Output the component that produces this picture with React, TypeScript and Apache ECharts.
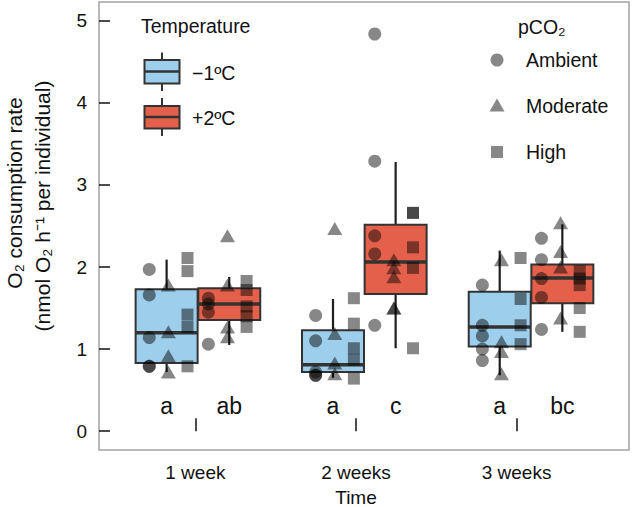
import React, { useEffect, useRef } from "react";
import * as echarts from "echarts";

// ---------- data ----------
const timeLabels = ["1 week", "2 weeks", "3 weeks"];
const timeValues = [1, 2, 3];
const yTicks = [0, 1, 2, 3, 4, 5];
const tempLabels = ["\u22121\u00baC", "+2\u00baC"];
const pco2Labels = ["Ambient", "Moderate", "High"];

// box statistics per time: [lower whisker, Q1, median, Q3, upper whisker]
const coldBoxes = [
  [0.72, 0.83, 1.2, 1.73, 2.09],
  [0.65, 0.72, 0.81, 1.23, 1.61],
  [0.68, 1.03, 1.27, 1.7, 2.2],
];
const warmBoxes = [
  [1.05, 1.355, 1.55, 1.74, 1.88],
  [1.01, 1.67, 2.06, 2.515, 3.28],
  [1.21, 1.56, 1.865, 2.03, 2.52],
];
const coldLetters = ["a", "a", "a"];
const warmLetters = ["ab", "c", "bc"];

// individual observations per time
const ambientCold = [
  [1.97, 1.66, 1.14, 0.79, 0.79],
  [1.41, 1.1, 0.72, 0.68, 0.68],
  [1.78, 1.29, 1.16, 1.0, 0.86],
];
const moderateCold = [
  [1.78, 1.21, 0.92, 0.72],
  [2.47, 1.19, 0.83, 0.7],
  [2.09, 1.09, 0.97, 0.7],
];
const highCold = [
  [2.11, 1.95, 1.42, 1.27, 0.79],
  [1.62, 1.31, 1.01, 0.87, 0.64],
  [2.11, 1.61, 1.29, 1.06],
];
const ambientWarm = [
  [1.62, 1.55, 1.45, 1.06],
  [4.84, 3.29, 2.38, 2.16, 1.29],
  [2.35, 2.09, 1.86, 1.63, 1.24],
];
const moderateWarm = [
  [2.38, 1.78, 1.27, 1.15],
  [2.09, 1.99, 1.88, 1.5, 1.5],
  [2.54, 2.19, 2.0, 1.38],
];
const highWarm = [
  [1.83, 1.72, 1.52, 1.4, 1.27],
  [2.66, 2.66, 2.24, 1.99, 1.01],
  [1.95, 1.86, 1.78, 1.5, 1.21],
];

// ---------- layout / style ----------
const FONT = "'Liberation Sans', Arial, Helvetica, sans-serif";
const groupX = [1.016, 2.052, 3.09];
const BOX_OFF = 0.195;
const BOX_HALF = 0.193;
const COL_STEP = 0.119;
const COLD = "#9dcfec";
const WARM = "#e4604b";
const PT = "rgba(0,0,0,0.47)";

function boxData(boxes: number[][], letters: string[], sign: number) {
  return boxes.map((b, i) => ({
    value: [groupX[i] + sign * BOX_OFF, ...b],
    letter: letters[i],
  }));
}

function pointData(arr: number[][], sign: number, col: number) {
  const out: number[][] = [];
  arr.forEach((vals, i) => {
    const x = groupX[i] + sign * (BOX_OFF - 0.011) + (col - 1) * COL_STEP;
    vals.forEach((v) => out.push([x, v]));
  });
  return out;
}

export default function App() {
  const ref = useRef<HTMLDivElement>(null);
  useEffect(() => {
    if (!ref.current) return;
    const chart = echarts.init(ref.current, null, { renderer: "svg" });

    const makeBoxSeries = (data: any[], color: string) => ({
      type: "custom",
      z: 2,
      data,
      encode: { x: 0, y: [1, 2, 3, 4, 5] },
      renderItem: (params: any, api: any) => {
        const x = api.value(0);
        const lo = api.value(1), q1 = api.value(2), med = api.value(3), q3 = api.value(4), hi = api.value(5);
        const tl = api.coord([x - BOX_HALF, q3]);
        const br = api.coord([x + BOX_HALF, q1]);
        const pm = api.coord([x, med]);
        const ph = api.coord([x, hi]);
        const pl = api.coord([x, lo]);
        const pq3 = api.coord([x, q3]);
        const pq1 = api.coord([x, q1]);
        const pt = api.coord([x, 0.31]);
        const letter = data[params.dataIndex].letter;
        return {
          type: "group",
          children: [
            { type: "line", shape: { x1: ph[0], y1: ph[1], x2: pq3[0], y2: pq3[1] }, style: { stroke: "#1e1e1e", lineWidth: 2.2 } },
            { type: "line", shape: { x1: pl[0], y1: pl[1], x2: pq1[0], y2: pq1[1] }, style: { stroke: "#1e1e1e", lineWidth: 2.2 } },
            { type: "rect", shape: { x: tl[0], y: tl[1], width: br[0] - tl[0], height: br[1] - tl[1] }, style: { fill: color, stroke: "#333", lineWidth: 2 } },
            { type: "line", shape: { x1: tl[0], y1: pm[1], x2: br[0], y2: pm[1] }, style: { stroke: "#333", lineWidth: 3.5 } },
            { type: "text", style: { text: letter, x: pm[0], y: pt[1], align: "center", verticalAlign: "middle", fontSize: 23, fontFamily: FONT, fill: "#111" } },
          ],
        };
      },
    });

    const scatter = (data: number[][], symbol: string, size: any) => ({
      type: "scatter",
      z: 5,
      symbol,
      symbolSize: size,
      data,
      itemStyle: { color: PT, opacity: 1 },
    });

    const legendGraphic: any[] = [
      { type: "text", left: 141, top: 16, style: { text: "Temperature", fontSize: 19.5, fontFamily: FONT, fill: "#111" } },
      // cold icon
      { type: "line", shape: { x1: 162, y1: 52.5, x2: 162, y2: 60 }, style: { stroke: "#333", lineWidth: 2 } },
      { type: "line", shape: { x1: 162, y1: 83.5, x2: 162, y2: 91 }, style: { stroke: "#333", lineWidth: 2 } },
      { type: "rect", shape: { x: 144.5, y: 60, width: 35, height: 23.5 }, style: { fill: COLD, stroke: "#333", lineWidth: 2 } },
      { type: "line", shape: { x1: 144.5, y1: 71.5, x2: 179.5, y2: 71.5 }, style: { stroke: "#333", lineWidth: 2.5 } },
      { type: "text", x: 192, y: 73, style: { text: tempLabels[0], fontSize: 19.5, fontFamily: FONT, fill: "#111", verticalAlign: "middle" } },
      // warm icon
      { type: "line", shape: { x1: 162, y1: 98, x2: 162, y2: 106 }, style: { stroke: "#333", lineWidth: 2 } },
      { type: "line", shape: { x1: 162, y1: 128.5, x2: 162, y2: 136 }, style: { stroke: "#333", lineWidth: 2 } },
      { type: "rect", shape: { x: 144.5, y: 106, width: 35, height: 22.5 }, style: { fill: WARM, stroke: "#333", lineWidth: 2 } },
      { type: "line", shape: { x1: 144.5, y1: 117, x2: 179.5, y2: 117 }, style: { stroke: "#333", lineWidth: 2.5 } },
      { type: "text", x: 192, y: 118, style: { text: tempLabels[1], fontSize: 19.5, fontFamily: FONT, fill: "#111", verticalAlign: "middle" } },
      // pCO2 legend
      { type: "text", x: 518, y: 27, style: { text: "pCO\u2082", fontSize: 19.5, fontFamily: FONT, fill: "#111", verticalAlign: "middle" } },
      { type: "circle", shape: { cx: 497, cy: 60, r: 6.5 }, style: { fill: PT } },
      { type: "text", x: 526, y: 60, style: { text: pco2Labels[0], fontSize: 19.5, fontFamily: FONT, fill: "#111", verticalAlign: "middle" } },
      { type: "polygon", shape: { points: [[497, 98.5], [489.5, 111.5], [504.5, 111.5]] }, style: { fill: PT } },
      { type: "text", x: 526, y: 106, style: { text: pco2Labels[1], fontSize: 19.5, fontFamily: FONT, fill: "#111", verticalAlign: "middle" } },
      { type: "rect", shape: { x: 491, y: 146, width: 12, height: 12 }, style: { fill: PT } },
      { type: "text", x: 526, y: 152, style: { text: pco2Labels[2], fontSize: 19.5, fontFamily: FONT, fill: "#111", verticalAlign: "middle" } },
      // axis titles
      { type: "text", x: 356, y: 497, style: { text: "Time", fontSize: 19, fontFamily: FONT, fill: "#111", align: "center", verticalAlign: "middle" } },
      { type: "text", x: 14, y: 193, rotation: Math.PI / 2, style: { text: "O\u2082 consumption rate", fontSize: 21, fontFamily: FONT, fill: "#111", align: "center", verticalAlign: "middle" } },
      { type: "text", x: 42, y: 206, rotation: Math.PI / 2, style: { text: "(nmol O\u2082 h\u207B\u00B9 per individual)", fontSize: 21, fontFamily: FONT, fill: "#111", align: "center", verticalAlign: "middle" } },
    ];

    chart.setOption({
      animation: false,
      backgroundColor: "#fff",
      grid: { left: 99, right: 4, top: 2, bottom: 57, show: true, borderColor: "#a3a3a3", borderWidth: 1.5, backgroundColor: "transparent" },
      xAxis: {
        type: "value",
        min: 0.4,
        max: 3.7,
        axisLine: { show: false },
        splitLine: { show: false },
        axisTick: { show: true, inside: true, length: 13, customValues: timeValues, lineStyle: { color: "#111", width: 1.5 } },
        axisLabel: {
          show: true,
          customValues: timeValues,
          margin: 13,
          fontSize: 19,
          fontFamily: FONT,
          color: "#111",
          formatter: (v: number) => timeLabels[Math.round(v) - 1] ?? "",
        },
      },
      yAxis: {
        type: "value",
        min: -0.23,
        max: 5.23,
        axisLine: { show: false },
        splitLine: { show: false },
        axisTick: { show: true, inside: true, length: 11, customValues: yTicks, lineStyle: { color: "#111", width: 1.5 } },
        axisLabel: { show: true, customValues: yTicks, margin: 12, fontSize: 19, fontFamily: FONT, color: "#111" },
      },
      graphic: legendGraphic,
      series: [
        makeBoxSeries(boxData(coldBoxes, coldLetters, -1), COLD),
        makeBoxSeries(boxData(warmBoxes, warmLetters, 1), WARM),
        scatter(pointData(ambientCold, -1, 0), "circle", 13),
        scatter(pointData(moderateCold, -1, 1), "triangle", [15, 13]),
        scatter(pointData(highCold, -1, 2), "rect", 12),
        scatter(pointData(ambientWarm, 1, 0), "circle", 13),
        scatter(pointData(moderateWarm, 1, 1), "triangle", [15, 13]),
        scatter(pointData(highWarm, 1, 2), "rect", 12),
      ],
    });
    return () => chart.dispose();
  }, []);
  return <div ref={ref} style={{ position: "fixed", left: 0, top: 0, width: 633, height: 507 }} />;
}
